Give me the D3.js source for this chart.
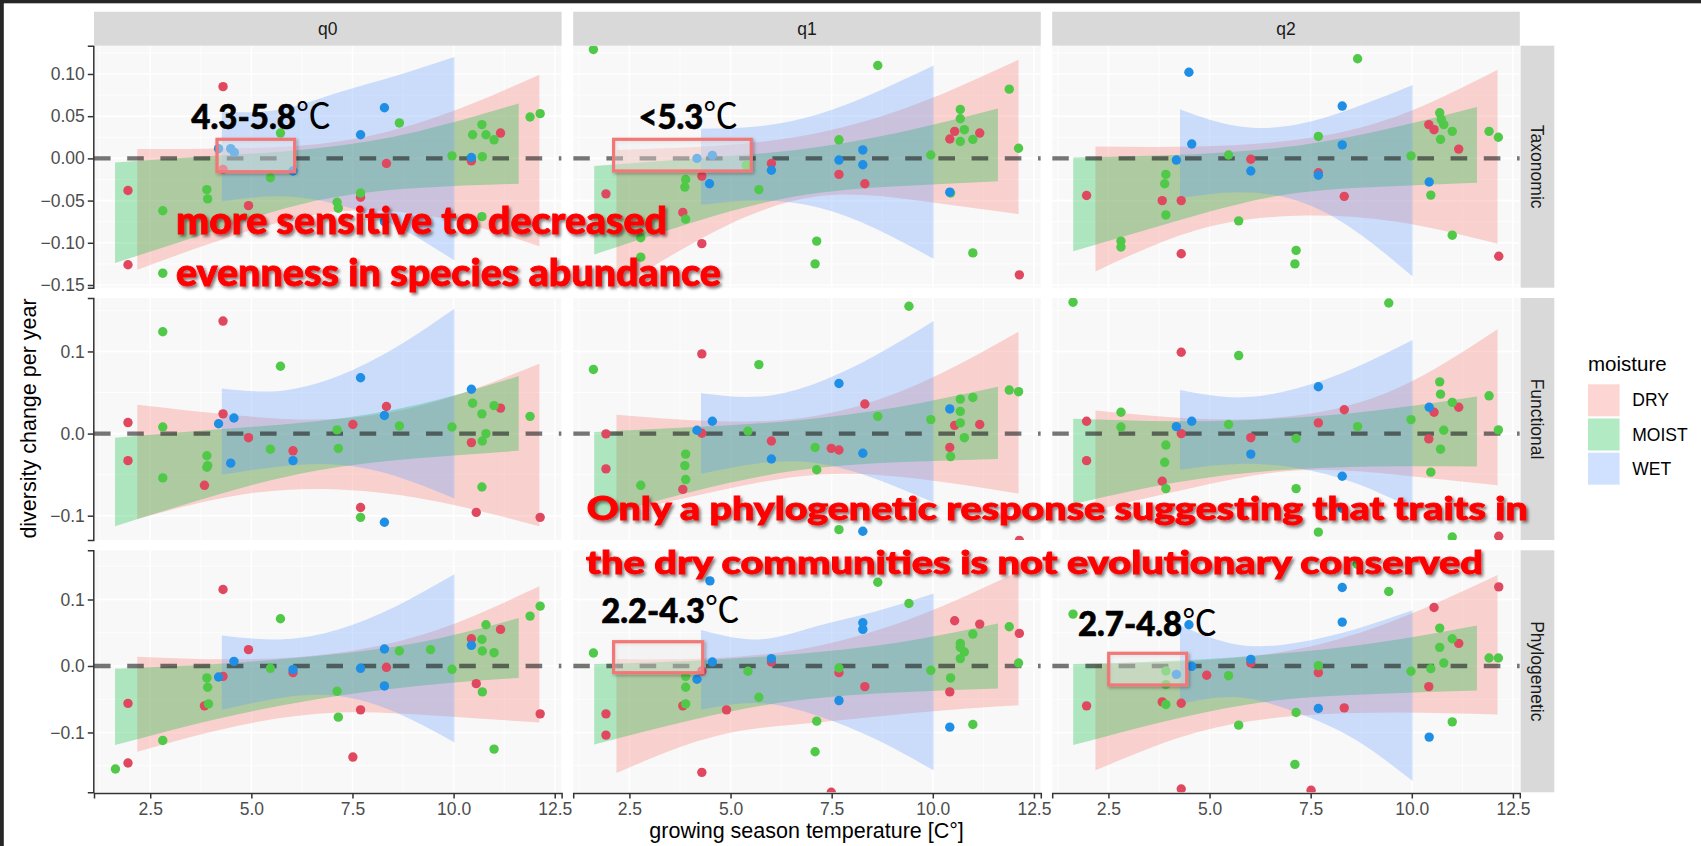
<!DOCTYPE html>
<html>
<head>
<meta charset="utf-8">
<script src="https://cdn.jsdelivr.net/npm/d3@7"></script>
<style>
  body { margin: 0; background: #fff; }
  svg text { font-family: "Liberation Sans", Arial, sans-serif; }
</style>
</head>
<body>
<svg id="chart"></svg>
<script>
// ---- facets, groups, ticks ----
const facetCols = ["q0", "q1", "q2"];
const facetRows = ["Taxonomic", "Functional", "Phylogenetic"];
const moistureLevels = ["DRY", "MOIST", "WET"];

const xTicks = [2.5, 5, 7.5, 10, 12.5];
const xTickLabels = ["2.5", "5.0", "7.5", "10.0", "12.5"];
const xMinor = [1.25, 3.75, 6.25, 8.75, 11.25];
const yTicksTax = [-0.15, -0.10, -0.05, 0, 0.05, 0.10];
const yTickLabelsTax = ["\u22120.15", "\u22120.10", "\u22120.05", "0.00", "0.05", "0.10"];
const yMinorTax = [-0.125, -0.075, -0.025, 0.025, 0.075, 0.125];
const yTicksOther = [-0.1, 0, 0.1];
const yTickLabelsOther = ["\u22120.1", "0.0", "0.1"];
const yMinorOther = [-0.15, -0.05, 0.05, 0.15];

// x positions where the confidence ribbons were read
const dryBandX   = [2.18, 4.67, 7.15, 9.63, 12.12];
const moistBandX = [1.63, 4.12, 6.62, 9.11, 11.61];
const wetBandX   = [4.27, 5.71, 7.15, 8.58, 10.02];

// ---- points: [temperature, change, moisture] ----
const taxQ0Points = [
  [4.30,0.085,"DRY"],[1.95,-0.038,"DRY"],[1.95,-0.126,"DRY"],[4.30,-0.013,"DRY"],[4.93,-0.056,"DRY"],
  [7.70,-0.046,"DRY"],[8.34,-0.006,"DRY"],[10.44,-0.003,"DRY"],[11.16,0.030,"DRY"],
  [2.81,-0.062,"MOIST"],[3.90,-0.037,"MOIST"],[3.92,-0.048,"MOIST"],[5.72,0.030,"MOIST"],[5.47,-0.023,"MOIST"],
  [7.70,-0.041,"MOIST"],[7.12,-0.052,"MOIST"],[7.15,-0.059,"MOIST"],[8.66,0.042,"MOIST"],[9.96,0.003,"MOIST"],
  [10.47,0.028,"MOIST"],[10.70,0.040,"MOIST"],[10.80,0.028,"MOIST"],[11.00,0.022,"MOIST"],[10.71,0.002,"MOIST"],
  [11.89,0.049,"MOIST"],[12.14,0.053,"MOIST"],[10.70,-0.069,"MOIST"],[2.81,-0.136,"MOIST"],
  [4.19,0.0115,"WET"],[4.49,0.0115,"WET"],[4.58,0.007,"WET"],[6.03,-0.015,"WET"],[7.70,0.028,"WET"],
  [8.29,0.060,"WET"],[10.44,0.001,"WET"],[8.29,-0.075,"WET"]
];
const taxQ1Points = [
  [1.92,-0.042,"DRY"],[3.82,-0.064,"DRY"],[4.29,-0.021,"DRY"],[4.29,-0.101,"DRY"],[6.01,-0.006,"DRY"],
  [7.68,-0.019,"DRY"],[8.32,-0.030,"DRY"],[10.54,0.032,"DRY"],[10.42,0.023,"DRY"],[11.16,0.030,"DRY"],[12.14,-0.138,"DRY"],
  [1.61,0.129,"MOIST"],[8.64,0.110,"MOIST"],[11.89,0.082,"MOIST"],[10.68,0.058,"MOIST"],[10.68,0.047,"MOIST"],
  [10.78,0.034,"MOIST"],[10.68,0.020,"MOIST"],[10.99,0.0225,"MOIST"],[12.12,0.012,"MOIST"],[7.68,0.022,"MOIST"],
  [9.95,0.004,"MOIST"],[5.39,-0.008,"MOIST"],[3.89,-0.025,"MOIST"],[3.87,-0.034,"MOIST"],[5.70,-0.037,"MOIST"],
  [3.89,-0.072,"MOIST"],[2.78,-0.094,"MOIST"],[2.78,-0.117,"MOIST"],[7.13,-0.098,"MOIST"],[7.09,-0.125,"MOIST"],
  [10.99,-0.112,"MOIST"],[10.44,-0.041,"MOIST"],
  [4.17,0.000,"WET"],[4.55,0.0036,"WET"],[4.48,-0.030,"WET"],[6.01,-0.014,"WET"],[7.68,-0.002,"WET"],
  [8.27,0.010,"WET"],[8.27,-0.0075,"WET"],[10.42,-0.040,"WET"]
];
const taxQ2Points = [
  [1.96,-0.044,"DRY"],[3.83,-0.050,"DRY"],[4.30,-0.050,"DRY"],[4.30,-0.113,"DRY"],[6.02,-0.001,"DRY"],
  [7.69,-0.017,"DRY"],[8.33,-0.045,"DRY"],[10.42,0.040,"DRY"],[10.55,0.034,"DRY"],[11.16,0.011,"DRY"],[12.15,-0.116,"DRY"],
  [8.66,0.118,"MOIST"],[7.69,0.026,"MOIST"],[10.69,0.054,"MOIST"],[10.73,0.046,"MOIST"],[10.79,0.040,"MOIST"],
  [11.00,0.032,"MOIST"],[10.71,0.0225,"MOIST"],[11.91,0.032,"MOIST"],[12.14,0.025,"MOIST"],[9.98,0.003,"MOIST"],
  [5.47,0.004,"MOIST"],[3.92,-0.019,"MOIST"],[3.89,-0.030,"MOIST"],[3.92,-0.067,"MOIST"],[5.72,-0.074,"MOIST"],
  [2.81,-0.098,"MOIST"],[2.81,-0.105,"MOIST"],[7.14,-0.109,"MOIST"],[7.11,-0.125,"MOIST"],[11.00,-0.091,"MOIST"],
  [10.47,-0.0435,"MOIST"],
  [4.49,0.102,"WET"],[4.56,0.017,"WET"],[4.18,-0.002,"WET"],[6.02,-0.015,"WET"],[7.69,-0.020,"WET"],
  [8.28,0.062,"WET"],[8.28,0.016,"WET"],[10.43,-0.028,"WET"]
];
const funQ0Points = [
  [4.30,0.137,"DRY"],[1.95,0.0134,"DRY"],[1.95,-0.033,"DRY"],[4.30,0.024,"DRY"],[4.93,-0.005,"DRY"],
  [3.84,-0.063,"DRY"],[6.03,-0.021,"DRY"],[7.51,0.011,"DRY"],[8.34,0.033,"DRY"],[7.70,-0.090,"DRY"],
  [10.44,-0.011,"DRY"],[11.16,0.031,"DRY"],[10.56,-0.096,"DRY"],[12.14,-0.102,"DRY"],
  [2.81,0.124,"MOIST"],[2.81,0.008,"MOIST"],[2.81,-0.054,"MOIST"],[3.90,-0.027,"MOIST"],[3.92,-0.039,"MOIST"],
  [3.90,-0.041,"MOIST"],[5.72,0.082,"MOIST"],[5.47,-0.019,"MOIST"],[7.12,0.0045,"MOIST"],[7.15,-0.018,"MOIST"],
  [7.70,-0.102,"MOIST"],[8.66,0.0093,"MOIST"],[9.96,0.008,"MOIST"],[10.47,0.037,"MOIST"],[10.70,0.024,"MOIST"],
  [10.80,0.000,"MOIST"],[11.00,0.034,"MOIST"],[10.71,-0.009,"MOIST"],[11.89,0.021,"MOIST"],[10.70,-0.065,"MOIST"],
  [4.19,0.012,"WET"],[4.57,0.019,"WET"],[4.49,-0.036,"WET"],[6.03,-0.033,"WET"],[7.70,0.068,"WET"],
  [8.29,0.022,"WET"],[8.29,-0.108,"WET"],[10.44,0.054,"WET"]
];
const funQ1Points = [
  [4.29,0.097,"DRY"],[1.92,-0.0004,"DRY"],[1.92,-0.043,"DRY"],[4.29,0.0004,"DRY"],[3.82,-0.068,"DRY"],
  [6.01,-0.009,"DRY"],[7.49,-0.018,"DRY"],[7.68,-0.020,"DRY"],[8.32,0.036,"DRY"],[10.54,0.010,"DRY"],
  [10.42,-0.017,"DRY"],[11.16,0.011,"DRY"],[12.14,-0.130,"DRY"],
  [1.61,0.078,"MOIST"],[9.41,0.155,"MOIST"],[5.70,0.084,"MOIST"],[8.64,0.021,"MOIST"],[9.95,0.017,"MOIST"],
  [10.68,0.042,"MOIST"],[10.68,0.027,"MOIST"],[10.99,0.044,"MOIST"],[10.68,0.013,"MOIST"],[10.78,-0.005,"MOIST"],
  [11.89,0.053,"MOIST"],[12.12,0.051,"MOIST"],[10.44,-0.028,"MOIST"],[5.43,0.003,"MOIST"],[7.09,-0.017,"MOIST"],
  [7.13,-0.044,"MOIST"],[3.89,-0.025,"MOIST"],[3.87,-0.039,"MOIST"],[3.89,-0.056,"MOIST"],[2.78,-0.063,"MOIST"],
  [7.68,-0.117,"MOIST"],
  [4.17,0.004,"WET"],[4.55,0.015,"WET"],[6.01,-0.031,"WET"],[7.68,0.061,"WET"],[8.27,-0.024,"WET"],
  [10.42,0.030,"WET"],[8.27,-0.119,"WET"]
];
const funQ2Points = [
  [1.96,0.015,"DRY"],[1.96,-0.033,"DRY"],[4.30,0.099,"DRY"],[4.30,0.000,"DRY"],[3.83,-0.058,"DRY"],
  [6.02,-0.005,"DRY"],[7.69,0.013,"DRY"],[8.33,0.029,"DRY"],[10.55,0.026,"DRY"],[11.16,0.032,"DRY"],
  [10.42,-0.0065,"DRY"],[12.15,-0.125,"DRY"],
  [1.625,0.160,"MOIST"],[9.43,0.159,"MOIST"],[5.72,0.095,"MOIST"],[2.81,0.026,"MOIST"],[2.81,0.008,"MOIST"],
  [3.92,-0.014,"MOIST"],[3.89,-0.035,"MOIST"],[3.92,-0.067,"MOIST"],[5.47,0.011,"MOIST"],[7.14,-0.006,"MOIST"],
  [8.66,0.0085,"MOIST"],[9.98,0.017,"MOIST"],[10.69,0.063,"MOIST"],[10.71,0.048,"MOIST"],[11.00,0.038,"MOIST"],
  [10.79,0.004,"MOIST"],[10.71,-0.019,"MOIST"],[10.47,-0.047,"MOIST"],[11.91,0.046,"MOIST"],[12.14,0.0045,"MOIST"],
  [7.14,-0.067,"MOIST"],[7.69,-0.120,"MOIST"],[11.00,-0.126,"MOIST"],
  [4.18,0.0085,"WET"],[4.56,0.015,"WET"],[6.02,-0.025,"WET"],[7.69,0.057,"WET"],[8.28,-0.052,"WET"],
  [10.43,0.032,"WET"],[8.28,-0.091,"WET"]
];
const phyQ0Points = [
  [4.30,0.115,"DRY"],[4.93,0.0246,"DRY"],[1.95,-0.0563,"DRY"],[1.95,-0.146,"DRY"],[3.84,-0.060,"DRY"],
  [4.30,-0.0156,"DRY"],[6.03,-0.010,"DRY"],[7.70,-0.066,"DRY"],[7.51,-0.137,"DRY"],[8.34,-0.002,"DRY"],
  [10.44,0.041,"DRY"],[10.56,-0.0266,"DRY"],[11.16,0.055,"DRY"],[12.14,-0.072,"DRY"],
  [1.64,-0.155,"MOIST"],[2.81,-0.112,"MOIST"],[3.90,-0.018,"MOIST"],[3.92,-0.032,"MOIST"],[3.94,-0.057,"MOIST"],
  [5.72,0.071,"MOIST"],[5.47,-0.0035,"MOIST"],[7.12,-0.038,"MOIST"],[7.15,-0.077,"MOIST"],[8.66,0.0226,"MOIST"],
  [9.43,0.0246,"MOIST"],[9.96,-0.005,"MOIST"],[10.70,0.040,"MOIST"],[10.71,0.0226,"MOIST"],[10.80,0.062,"MOIST"],
  [11.00,0.020,"MOIST"],[11.00,-0.125,"MOIST"],[11.89,0.075,"MOIST"],[12.14,0.090,"MOIST"],[10.71,-0.039,"MOIST"],
  [4.19,-0.0166,"WET"],[4.57,0.007,"WET"],[6.03,-0.0055,"WET"],[7.70,-0.0035,"WET"],[8.29,0.0256,"WET"],
  [8.29,-0.030,"WET"],[10.44,0.031,"WET"]
];
const phyQ1Points = [
  [1.92,-0.072,"DRY"],[1.92,-0.104,"DRY"],[4.29,-0.0075,"DRY"],[3.82,-0.060,"DRY"],[4.90,-0.066,"DRY"],
  [4.29,-0.160,"DRY"],[6.01,0.006,"DRY"],[7.68,-0.010,"DRY"],[8.32,-0.031,"DRY"],[10.54,0.068,"DRY"],
  [11.16,0.063,"DRY"],[12.14,0.049,"DRY"],[10.42,-0.039,"DRY"],[7.49,-0.190,"DRY"],
  [1.61,0.0196,"MOIST"],[8.64,0.126,"MOIST"],[9.41,0.094,"MOIST"],[11.89,0.059,"MOIST"],[10.99,0.048,"MOIST"],
  [10.68,0.034,"MOIST"],[10.68,0.028,"MOIST"],[10.78,0.021,"MOIST"],[10.68,0.011,"MOIST"],[12.12,0.0045,"MOIST"],
  [9.95,-0.0065,"MOIST"],[10.44,-0.018,"MOIST"],[7.68,-0.003,"MOIST"],[5.43,-0.008,"MOIST"],[3.89,-0.0156,"MOIST"],
  [3.89,-0.032,"MOIST"],[3.89,-0.057,"MOIST"],[5.70,-0.047,"MOIST"],[7.13,-0.083,"MOIST"],[7.09,-0.129,"MOIST"],
  [10.99,-0.088,"MOIST"],
  [4.49,0.128,"WET"],[4.55,0.006,"WET"],[4.17,-0.020,"WET"],[6.01,0.011,"WET"],[7.68,-0.052,"WET"],
  [8.27,0.065,"WET"],[8.27,0.055,"WET"],[10.42,-0.092,"WET"]
];
const phyQ2Points = [
  [12.15,0.119,"DRY"],[10.55,0.088,"DRY"],[11.16,0.034,"DRY"],[10.42,-0.031,"DRY"],[1.96,-0.060,"DRY"],
  [3.83,-0.054,"DRY"],[4.30,-0.056,"DRY"],[4.93,-0.014,"DRY"],[6.02,0.0045,"DRY"],[7.69,-0.010,"DRY"],
  [8.33,-0.063,"DRY"],[4.30,-0.185,"DRY"],[7.51,-0.187,"DRY"],
  [1.625,0.078,"MOIST"],[8.65,0.153,"MOIST"],[9.43,0.112,"MOIST"],[10.69,0.057,"MOIST"],[11.00,0.041,"MOIST"],
  [10.69,0.028,"MOIST"],[10.79,0.0045,"MOIST"],[10.47,-0.004,"MOIST"],[9.98,-0.008,"MOIST"],[11.91,0.012,"MOIST"],
  [12.14,0.012,"MOIST"],[7.69,0.0005,"MOIST"],[5.47,-0.0146,"MOIST"],[3.92,-0.0075,"MOIST"],[3.92,-0.028,"MOIST"],
  [3.92,-0.058,"MOIST"],[7.14,-0.070,"MOIST"],[5.72,-0.089,"MOIST"],[11.00,-0.084,"MOIST"],[7.11,-0.148,"MOIST"],
  [4.49,0.062,"WET"],[4.18,-0.0126,"WET"],[4.56,-0.0005,"WET"],[6.02,0.010,"WET"],[7.69,-0.064,"WET"],
  [8.28,0.118,"WET"],[8.28,0.066,"WET"],[10.43,-0.107,"WET"]
];

// ---- ribbons: [moisture, lower edge, upper edge] at the *BandX positions ----
const taxQ0Bands = [
  ["DRY",   [-0.132,-0.090,-0.063,-0.070,-0.104], [0.011,0.012,0.020,0.050,0.099]],
  ["MOIST", [-0.124,-0.085,-0.050,-0.035,-0.030], [-0.005,0.003,0.012,0.032,0.065]],
  ["WET",   [-0.051,-0.045,-0.055,-0.080,-0.121], [0.055,0.058,0.078,0.098,0.120]]
];
const taxQ1Bands = [
  ["DRY",   [-0.155,-0.085,-0.045,-0.050,-0.066], [0.010,0.015,0.030,0.065,0.117]],
  ["MOIST", [-0.114,-0.075,-0.045,-0.033,-0.027], [-0.009,0.000,0.010,0.030,0.059]],
  ["WET",   [-0.055,-0.050,-0.058,-0.083,-0.119], [0.035,0.038,0.052,0.078,0.110]]
];
const taxQ2Bands = [
  ["DRY",   [-0.134,-0.085,-0.068,-0.075,-0.101], [0.014,0.014,0.022,0.050,0.105]],
  ["MOIST", [-0.110,-0.075,-0.045,-0.034,-0.029], [0.001,0.004,0.012,0.032,0.061]],
  ["WET",   [-0.047,-0.040,-0.050,-0.085,-0.140], [0.058,0.038,0.040,0.060,0.087]]
];
const funQ0Bands = [
  ["DRY",   [-0.104,-0.075,-0.068,-0.083,-0.113], [0.035,0.022,0.018,0.040,0.085]],
  ["MOIST", [-0.113,-0.075,-0.045,-0.030,-0.021], [-0.005,0.005,0.015,0.035,0.070]],
  ["WET",   [-0.050,-0.040,-0.038,-0.052,-0.079], [0.055,0.052,0.070,0.105,0.152]]
];
const funQ1Bands = [
  ["DRY",   [-0.097,-0.070,-0.050,-0.055,-0.073], [0.023,0.015,0.022,0.060,0.124]],
  ["MOIST", [-0.103,-0.070,-0.045,-0.035,-0.031], [0.002,0.008,0.016,0.032,0.057]],
  ["WET",   [-0.049,-0.036,-0.036,-0.055,-0.084], [0.049,0.045,0.062,0.095,0.137]]
];
const funQ2Bands = [
  ["DRY",   [-0.093,-0.065,-0.045,-0.050,-0.063], [0.028,0.018,0.022,0.055,0.127]],
  ["MOIST", [-0.086,-0.060,-0.045,-0.040,-0.040], [0.018,0.015,0.018,0.028,0.045]],
  ["WET",   [-0.044,-0.037,-0.042,-0.060,-0.091], [0.053,0.044,0.055,0.080,0.114]]
];
const phyQ0Bands = [
  ["DRY",   [-0.129,-0.090,-0.070,-0.075,-0.085], [0.014,0.010,0.020,0.055,0.120]],
  ["MOIST", [-0.119,-0.080,-0.050,-0.030,-0.018], [-0.004,0.003,0.015,0.035,0.072]],
  ["WET",   [-0.066,-0.048,-0.045,-0.070,-0.115], [0.046,0.040,0.055,0.090,0.138]]
];
const phyQ1Bands = [
  ["DRY",   [-0.161,-0.105,-0.085,-0.070,-0.059], [0.010,0.012,0.030,0.075,0.142]],
  ["MOIST", [-0.118,-0.080,-0.052,-0.040,-0.034], [0.003,0.008,0.018,0.035,0.064]],
  ["WET",   [-0.066,-0.056,-0.075,-0.110,-0.157], [0.054,0.040,0.060,0.082,0.109]]
];
const phyQ2Bands = [
  ["DRY",   [-0.157,-0.100,-0.075,-0.070,-0.073], [0.003,0.008,0.025,0.070,0.137]],
  ["MOIST", [-0.119,-0.080,-0.052,-0.042,-0.037], [0.003,0.008,0.018,0.035,0.061]],
  ["WET",   [-0.057,-0.047,-0.070,-0.110,-0.173], [0.061,0.032,0.035,0.055,0.084]]
];

// ---- annotations ----
const rangeLabels = ["4.3-5.8", "<5.3", "2.2-4.3", "2.7-4.8"];
const noteLines = [
  "more sensitive to decreased",
  "evenness in species abundance",
  "Only a phylogenetic response suggesting that traits in",
  "the dry communities is not evolutionary conserved"
];

// ---------------------------------------------------------------
const W = 1701, H = 846;
const colLeft = [94, 573.2, 1052.2];
const rowTop = [45.7, 298.0, 550.3];
const panelW = 467.6, panelH = 242;
const xDomain = [1.11, 12.67];
const yDomains = [[-0.1532, 0.1335], [-0.1296, 0.1651], [-0.190, 0.174]];

const bandFill = { DRY: "#F8766D", MOIST: "#00BA38", WET: "#619CFF" };
const pointFill = { DRY: "#E0485F", MOIST: "#50C948", WET: "#1F8FE6" };
const bandX = { DRY: dryBandX, MOIST: moistBandX, WET: wetBandX };

const panels = [
  [taxQ0Points, taxQ0Bands], [taxQ1Points, taxQ1Bands], [taxQ2Points, taxQ2Bands],
  [funQ0Points, funQ0Bands], [funQ1Points, funQ1Bands], [funQ2Points, funQ2Bands],
  [phyQ0Points, phyQ0Bands], [phyQ1Points, phyQ1Bands], [phyQ2Points, phyQ2Bands]
];

const svg = d3.select("#chart").attr("width", W).attr("height", H);
svg.append("rect").attr("width", W).attr("height", H).attr("fill", "#fff");

const defs = svg.append("defs");
defs.append("filter").attr("id", "txtShadow")
    .attr("x", "-5%").attr("y", "-30%").attr("width", "112%").attr("height", "170%")
  .append("feDropShadow")
    .attr("dx", 2).attr("dy", 2.2).attr("stdDeviation", 1.6)
    .attr("flood-color", "#000").attr("flood-opacity", 0.5);
defs.append("filter").attr("id", "boxShadow")
    .attr("x", "-20%").attr("y", "-40%").attr("width", "140%").attr("height", "180%")
  .append("feDropShadow")
    .attr("dx", 1.5).attr("dy", 1.5).attr("stdDeviation", 1.5)
    .attr("flood-color", "#000").attr("flood-opacity", 0.3);

panels.forEach(([pts, bands], i) => {
  const r = Math.floor(i / 3), c = i % 3;
  const left = colLeft[c], top = rowTop[r];
  const x = d3.scaleLinear().domain(xDomain).range([left, left + panelW]);
  const y = d3.scaleLinear().domain(yDomains[r]).range([top + panelH, top]);
  const yMajor = r === 0 ? yTicksTax : yTicksOther;
  const yMinor = r === 0 ? yMinorTax : yMinorOther;

  defs.append("clipPath").attr("id", "clip" + i)
    .append("rect").attr("x", left).attr("y", top).attr("width", panelW).attr("height", panelH);

  const g = svg.append("g").attr("clip-path", `url(#clip${i})`);
  g.append("rect").attr("x", left).attr("y", top).attr("width", panelW).attr("height", panelH)
    .attr("fill", "#F8F8F8");

  // grid
  g.selectAll(".vmin").data(xMinor).enter().append("line")
    .attr("x1", d => x(d)).attr("x2", d => x(d)).attr("y1", top).attr("y2", top + panelH)
    .attr("stroke", "#fff").attr("stroke-width", 0.8);
  g.selectAll(".hmin").data(yMinor).enter().append("line")
    .attr("y1", d => y(d)).attr("y2", d => y(d)).attr("x1", left).attr("x2", left + panelW)
    .attr("stroke", "#fff").attr("stroke-width", 0.8);
  g.selectAll(".vmaj").data(xTicks).enter().append("line")
    .attr("x1", d => x(d)).attr("x2", d => x(d)).attr("y1", top).attr("y2", top + panelH)
    .attr("stroke", "#fff").attr("stroke-width", 1.6);
  g.selectAll(".hmaj").data(yMajor).enter().append("line")
    .attr("y1", d => y(d)).attr("y2", d => y(d)).attr("x1", left).attr("x2", left + panelW)
    .attr("stroke", "#fff").attr("stroke-width", 1.6);

  // ribbons, drawn DRY, MOIST, WET
  const area = d3.area()
    .x(d => x(d.x)).y0(d => y(d.lo)).y1(d => y(d.hi))
    .curve(d3.curveNatural);
  moistureLevels.forEach(m => {
    const b = bands.find(e => e[0] === m);
    const rows = bandX[m].map((v, k) => ({ x: v, lo: b[1][k], hi: b[2][k] }));
    g.append("path").datum(rows).attr("d", area)
      .attr("fill", bandFill[m]).attr("fill-opacity", 0.3);
  });

  // zero line
  g.append("line")
    .attr("x1", left).attr("x2", left + panelW).attr("y1", y(0)).attr("y2", y(0))
    .attr("stroke", "#222").attr("stroke-opacity", 0.62)
    .attr("stroke-width", 4.3).attr("stroke-dasharray", "16.6 16.6");

  g.selectAll("circle").data(pts).enter().append("circle")
    .attr("cx", d => x(d[0])).attr("cy", d => y(d[1])).attr("r", 4.7)
    .attr("fill", d => pointFill[d[2]]);

  // axes on outer panels only
  if (c === 0) {
    const labels = r === 0 ? yTickLabelsTax : yTickLabelsOther;
    const ax = svg.append("g").attr("transform", `translate(${left - 0.7},0)`)
      .call(d3.axisLeft(y).tickValues(yMajor).tickFormat((d, k) => labels[k])
        .tickSizeOuter(0).tickSize(5.5).tickPadding(3));
    ax.select(".domain").attr("stroke", "#333").attr("stroke-width", 1.5);
    ax.selectAll(".tick line").attr("stroke", "#333").attr("stroke-width", 1.5);
    ax.selectAll("text").attr("fill", "#4D4D4D").style("font-size", "17.5px")
      .style("font-family", "'Liberation Sans', Arial, sans-serif");
  }
  if (r === 2) {
    const ax = svg.append("g").attr("transform", `translate(0,${top + panelH + 0.7})`)
      .call(d3.axisBottom(x).tickValues(xTicks).tickFormat((d, k) => xTickLabels[k])
        .tickSizeOuter(0).tickSize(5.5).tickPadding(4.5));
    ax.select(".domain").attr("stroke", "#333").attr("stroke-width", 1.5);
    ax.selectAll(".tick line").attr("stroke", "#333").attr("stroke-width", 1.5);
    ax.selectAll("text").attr("fill", "#4D4D4D").style("font-size", "17.5px")
      .style("font-family", "'Liberation Sans', Arial, sans-serif");
  }
});

// strips
facetCols.forEach((name, c) => {
  svg.append("rect").attr("x", colLeft[c]).attr("y", 11.7).attr("width", panelW).attr("height", 34)
    .attr("fill", "#D9D9D9");
  svg.append("text").attr("x", colLeft[c] + panelW / 2).attr("y", 28.7).attr("dy", "0.35em")
    .attr("text-anchor", "middle").attr("fill", "#1A1A1A").style("font-size", "17.5px").text(name);
});
facetRows.forEach((name, r) => {
  const sx = 1520.6;
  svg.append("rect").attr("x", sx).attr("y", rowTop[r]).attr("width", 33.7).attr("height", panelH)
    .attr("fill", "#D9D9D9");
  svg.append("text").attr("transform", `translate(${sx + 16.85},${rowTop[r] + panelH / 2}) rotate(90)`)
    .attr("dy", "0.35em").attr("text-anchor", "middle").attr("fill", "#1A1A1A")
    .style("font-size", "17.5px").text(name);
});

// axis titles
svg.append("text").attr("x", 806.6).attr("y", 838).attr("text-anchor", "middle")
  .attr("fill", "#000").style("font-size", "21.5px").text("growing season temperature [C\u00B0]");
svg.append("text").attr("transform", "translate(35.5,418.5) rotate(-90)").attr("text-anchor", "middle")
  .attr("fill", "#000").style("font-size", "21.5px").text("diversity change per year");

// legend
svg.append("text").attr("x", 1588).attr("y", 370.5).attr("fill", "#000")
  .style("font-size", "20.5px").text("moisture");
moistureLevels.forEach((m, k) => {
  const ky = 384.3 + k * 34.2;
  svg.append("rect").attr("x", 1588).attr("y", ky).attr("width", 31.6).attr("height", 32)
    .attr("fill", bandFill[m]).attr("fill-opacity", 0.3);
  svg.append("text").attr("x", 1632.3).attr("y", ky + 16).attr("dy", "0.35em").attr("fill", "#000")
    .style("font-size", "17.5px").text(m);
});

// highlighted ranges (boxes + labels)
const boxes = [
  [217, 139.3, 77.6, 32.4],
  [613.6, 139.3, 137.7, 31.7],
  [613.6, 641.7, 89.1, 31.0],
  [1108.7, 653.3, 78.0, 31.7]
];
boxes.forEach(b => {
  svg.append("rect").attr("x", b[0]).attr("y", b[1]).attr("width", b[2]).attr("height", b[3])
    .attr("fill", "#fff").attr("fill-opacity", 0.35)
    .attr("stroke", "#F27878").attr("stroke-width", 3.2).attr("filter", "url(#boxShadow)");
});
const labelPos = [[191.3, 128.5, 139.7], [638.4, 128.5, 99.6], [601.3, 622.7, 138.5], [1077.9, 636, 139.1]];
rangeLabels.forEach((t, k) => {
  const p = labelPos[k];
  const tx = svg.append("text").attr("x", p[0]).attr("y", p[1]).attr("fill", "#000")
    .attr("textLength", p[2]).attr("lengthAdjust", "spacingAndGlyphs")
    .style("font-family", "Lato, 'Open Sans', sans-serif").style("font-weight", 900).style("font-size", "34px");
  tx.append("tspan").attr("stroke", "#000").attr("stroke-width", 0.6).text(t);
  tx.append("tspan").style("font-family", "'Noto Sans CJK SC', sans-serif").style("font-weight", 400)
    .style("font-size", "36px").text("\u2103");
});

const notePos = [[176, 234, 491, 38], [176, 286, 545, 38], [586.8, 519.5, 941, 31.5], [586, 574, 897, 31.5]];
noteLines.forEach((t, k) => {
  const p = notePos[k];
  svg.append("text").attr("x", p[0]).attr("y", p[1]).attr("fill", "#FF0000")
    .attr("stroke", "#FF0000").attr("stroke-width", 0.9)
    .attr("textLength", p[2]).attr("lengthAdjust", "spacingAndGlyphs")
    .attr("filter", "url(#txtShadow)")
    .style("font-family", "Lato, 'Open Sans', sans-serif").style("font-weight", 900)
    .style("font-size", p[3] + "px").text(t);
});

// screenshot frame
svg.append("rect").attr("x", 0).attr("y", 0).attr("width", W).attr("height", 3.3).attr("fill", "#262626");
svg.append("rect").attr("x", 0).attr("y", 0).attr("width", 3.8).attr("height", H).attr("fill", "#262626");
</script>
</body>
</html>
